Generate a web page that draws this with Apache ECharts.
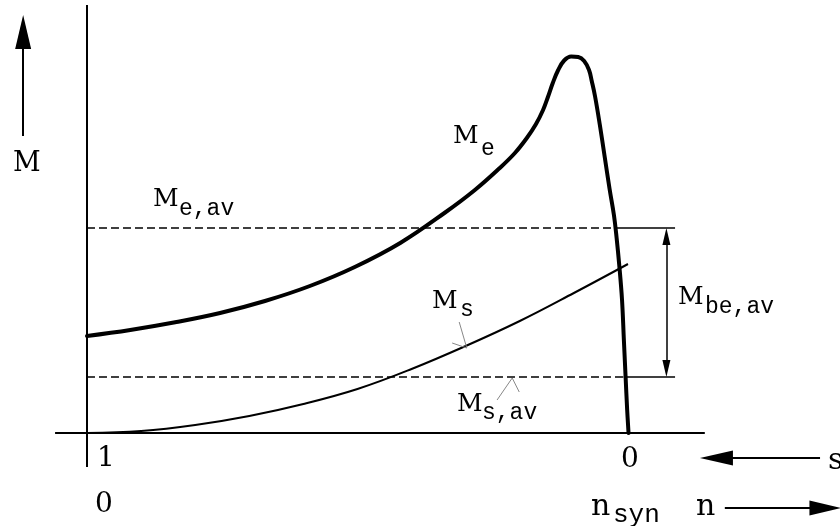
<!DOCTYPE html>
<html>
<head>
<meta charset="utf-8">
<script src="https://cdn.jsdelivr.net/npm/echarts@6/dist/echarts.min.js"></script>
<style>
  html, body { margin: 0; padding: 0; background: #fff; }
  #torque-chart { width: 840px; height: 526px; }
</style>
</head>
<body>
<div id="torque-chart"></div>
<script>
// speed n/n_syn (0 = standstill, s = 1 ; 1 = synchronous, s = 0)
const meSpeed = [0, 0.080, 0.163, 0.246, 0.329, 0.412, 0.495, 0.579, 0.662, 0.717, 0.763, 0.791, 0.813, 0.830, 0.843, 0.852, 0.861, 0.871, 0.882, 0.895, 0.908, 0.919, 0.928, 0.933, 0.939, 0.948, 0.957, 0.966, 0.974, 0.979, 0.984, 0.989, 0.9924, 0.9956, 0.9985, 1.001]
// motor torque Me
const meTorque = [0.97, 1.03, 1.107, 1.20, 1.32, 1.47, 1.66, 1.90, 2.205, 2.43, 2.65, 2.80, 2.95, 3.09, 3.23, 3.36, 3.50, 3.63, 3.725, 3.765, 3.76, 3.72, 3.63, 3.52, 3.37, 3.08, 2.76, 2.44, 2.18, 1.95, 1.67, 1.33, 0.93, 0.56, 0.23, 0]
// load torque Ms
const msSpeed = [0, 0.1, 0.2, 0.3, 0.4, 0.5, 0.6, 0.7, 0.8, 0.9, 1.0]
const msTorque = [0, 0.02, 0.08, 0.17, 0.29, 0.44, 0.64, 0.87, 1.12, 1.40, 1.69]
// average torques
const meAvg = 2.05
const msAvg = 0.56
// tick labels on the speed axis
const slipTicks = ['1', '0']
const speedTicks = ['0', 'syn']

const chart = echarts.init(document.getElementById('torque-chart'))

function pts(xs, ys) {
  return xs.map((x, i) => [x, ys[i]])
}

const black = '#000'
const noLabel = { show: false }

function seg(name, data, width, type) {
  return {
    name: name,
    type: 'line',
    data: data,
    symbol: 'none',
    silent: true,
    lineStyle: { color: black, width: width, type: type || 'solid' },
    z: 3
  }
}

// straight helper lines and arrows drawn as markLines
function guide(from, to, opts) {
  opts = opts || {}
  return [
    { coord: from, symbol: opts.fromSymbol || 'none', symbolSize: opts.size || 10 },
    {
      coord: to,
      symbol: opts.toSymbol || 'none',
      symbolSize: opts.size || 10,
      lineStyle: { color: opts.color || black, width: opts.width || 2, type: 'solid' }
    }
  ]
}

const guides = [
  // axes
  guide([0, -0.34], [0, 4.28], { width: 2 }),
  guide([-0.059, 0], [1.142, 0], { width: 2 }),
  // M arrow
  guide([-0.118, 2.97], [-0.118, 4.01], { toSymbol: 'triangle', size: [16, 34], width: 2 }),
  // s arrow (pointing left)
  guide([1.355, -0.25], [1.1635, -0.25], { toSymbol: 'triangle', size: [15, 33], width: 2 }),
  // n arrow (pointing right)
  guide([1.179, -0.75], [1.365, -0.75], { toSymbol: 'triangle', size: [15, 32], width: 2 }),
  // double arrow between the averages
  guide([1.071, meAvg - 0.085], [1.071, msAvg + 0.085], { fromSymbol: 'triangle', toSymbol: 'triangle', size: [8, 17], width: 1.5 }),
  // leader ticks
  guide([0.688, 1.11], [0.702, 0.85], { color: '#888', width: 1 }),
  guide([0.675, 0.90], [0.702, 0.85], { color: '#888', width: 1 }),
  guide([0.758, 0.33], [0.786, 0.55], { color: '#888', width: 1 }),
  guide([0.786, 0.55], [0.799, 0.41], { color: '#888', width: 1 })
]

const serif = 'DejaVu Serif'
const mono = 'Liberation Mono'

function txt(x, y, text, size, family) {
  return {
    type: 'text',
    x: x,
    y: y,
    silent: true,
    style: {
      text: text,
      fontFamily: family || serif,
      fontSize: size,
      fill: black,
      textAlign: 'left',
      textVerticalAlign: 'middle'
    }
  }
}

chart.setOption({
  animation: false,
  backgroundColor: '#fff',
  grid: { left: 0, right: 0, top: 0, bottom: 0 },
  xAxis: { type: 'value', min: -0.1608, max: 1.3919, show: false },
  yAxis: { type: 'value', min: -0.93, max: 4.33, show: false },
  series: [
    {
      name: 'Me',
      type: 'line',
      data: pts(meSpeed, meTorque),
      smooth: 0.4,
      symbol: 'none',
      silent: true,
      lineStyle: { color: black, width: 4, join: 'round', cap: 'round' },
      z: 4
    },
    {
      name: 'Ms',
      type: 'line',
      data: pts(msSpeed, msTorque),
      smooth: 0.4,
      symbol: 'none',
      silent: true,
      lineStyle: { color: black, width: 2 },
      z: 4
    },
    seg('Me,av', [[0, meAvg], [0.976, meAvg]], 1.5, [8, 4]),
    seg('Me,av end', [[0.976, meAvg], [1.087, meAvg]], 1.5),
    seg('Ms,av', [[0, msAvg], [0.992, msAvg]], 1.5, [8, 4]),
    seg('Ms,av end', [[0.992, msAvg], [1.087, msAvg]], 1.5),
    {
      name: 'guides',
      type: 'line',
      data: [],
      silent: true,
      markLine: {
        silent: true,
        animation: false,
        label: noLabel,
        emphasis: { disabled: true },
        symbol: 'none',
        lineStyle: { color: black, width: 2, type: 'solid' },
        itemStyle: { color: black },
        data: guides
      }
    }
  ],
  graphic: [
    txt(13, 164, 'M', 27),
    txt(453, 136, 'M', 25),
    txt(481, 149, 'e', 23, mono),
    txt(153, 199, 'M', 25),
    txt(179, 209, 'e,av', 23, mono),
    txt(432, 301, 'M', 25),
    txt(460, 310, 's', 23, mono),
    txt(457, 404, 'M', 25),
    txt(482, 413, 's,av', 23, mono),
    txt(678, 297, 'M', 25),
    txt(705, 307, 'be,av', 23, mono),
    txt(97, 459, slipTicks[0], 28),
    txt(621, 460, slipTicks[1], 28),
    txt(828, 461, 's', 30),
    txt(95, 505, speedTicks[0], 28),
    txt(591, 507, 'n', 30),
    txt(613, 515, speedTicks[1], 26, mono),
    txt(696, 507, 'n', 30)
  ]
})
</script>
</body>
</html>
